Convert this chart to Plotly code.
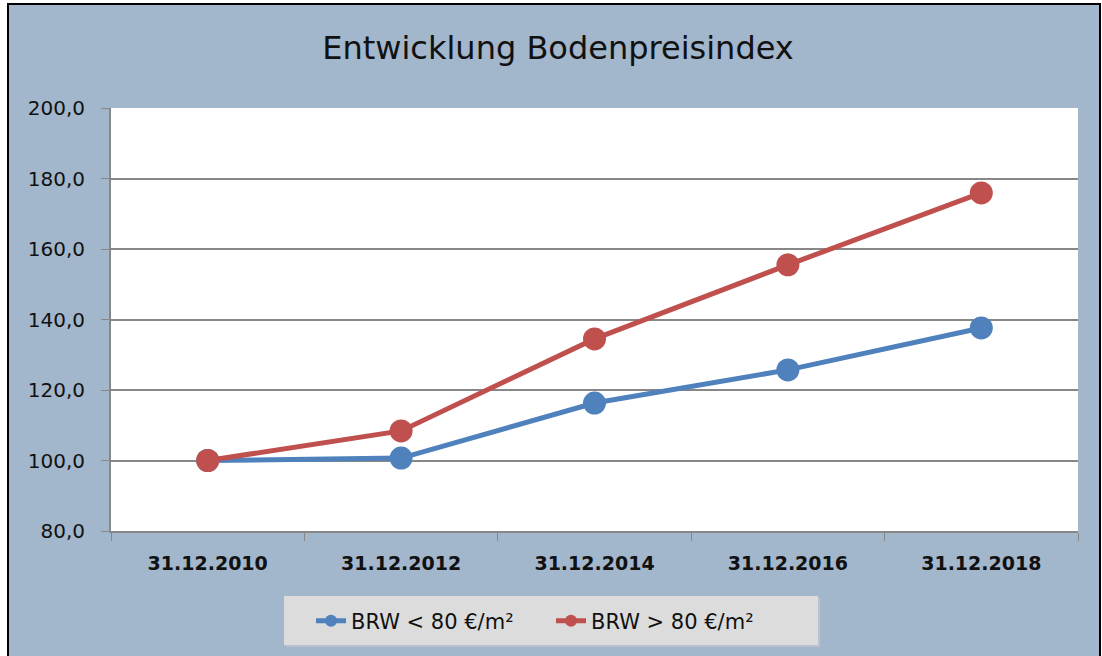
import plotly.graph_objects as go

categories = ["31.12.2010", "31.12.2012", "31.12.2014", "31.12.2016", "31.12.2018"]
brw_low = [100.0, 100.7, 116.3, 125.7, 137.6]
brw_high = [100.0, 108.4, 134.5, 155.5, 175.9]
y_ticks = [80, 100, 120, 140, 160, 180, 200]

BG = "rgb(162,182,204)"
BLUE = "#4F81BD"
RED = "#C0504D"
GRID = "#878787"
FONT = "DejaVu Sans"

W, H = 1102, 656
L, R, T, B = 111, 24, 108, 125
pw, ph = W - L - R, H - T - B

def px(x):
    return (x - L) / pw

def py(y):
    return (H - B - y) / ph

fig = go.Figure()
fig.add_trace(go.Scatter(x=categories, y=brw_low, mode="lines+markers", name="BRW < 80 €/m²",
                         line=dict(color=BLUE, width=5), marker=dict(size=23, color=BLUE)))
fig.add_trace(go.Scatter(x=categories, y=brw_high, mode="lines+markers", name="BRW > 80 €/m²",
                         line=dict(color=RED, width=5), marker=dict(size=23, color=RED)))

fig.update_layout(
    width=W, height=H,
    margin=dict(l=L, r=R, t=T, b=B),
    paper_bgcolor="white",
    plot_bgcolor="white",
    separators=",.",
    title=dict(text="Entwicklung Bodenpreisindex", x=558 / W, xref="container", xanchor="center",
               y=1 - 48 / H, yanchor="middle",
               font=dict(family=FONT, size=32, color="#111111")),
    font=dict(family=FONT, color="#111111"),
    xaxis=dict(type="category", range=[-0.5, 4.5], tickson="boundaries",
               ticks="outside", ticklen=8, tickcolor=GRID, showline=True, linecolor=GRID,
               linewidth=2, showgrid=False,
               tickfont=dict(size=19, family=FONT, color="#111111", weight="bold"),
               ticklabelstandoff=14),
    yaxis=dict(range=[80, 200], tickvals=y_ticks, tickformat=".1f", ticks="outside",
               ticklen=8, tickcolor=GRID, showline=True, linecolor=GRID, linewidth=2,
               showgrid=True, gridcolor=GRID, gridwidth=1.5, zeroline=False,
               tickfont=dict(size=20, family=FONT, color="#111111"), ticklabelstandoff=12),
    legend=dict(orientation="h", x=px(551), xanchor="center", y=py(621), yanchor="middle",
                bgcolor="rgba(0,0,0,0)", borderwidth=0,
                font=dict(size=21, family=FONT, color="#111111"),
                entrywidth=195, itemsizing="constant"),
    showlegend=True,
    shapes=[
        dict(type="rect", xref="paper", yref="paper", x0=px(8), x1=px(1100), y0=py(4), y1=py(660),
             fillcolor=BG, line=dict(color="black", width=2), layer="below"),
        dict(type="rect", xref="paper", yref="paper", x0=0, x1=1, y0=0, y1=1,
             fillcolor="white", line=dict(width=0), layer="below"),
        dict(type="rect", xref="paper", yref="paper", x0=px(286), x1=px(820), y0=py(598), y1=py(647),
             fillcolor="#B9C3CF", line=dict(width=0), layer="below"),
        dict(type="rect", xref="paper", yref="paper", x0=px(284), x1=px(818), y0=py(596), y1=py(645),
             fillcolor="#DCDCDC", line=dict(width=0), layer="below"),
    ],
)

fig.write_html("out.html", config={"displayModeBar": False},
               post_script="document.body.style.margin='0';")
